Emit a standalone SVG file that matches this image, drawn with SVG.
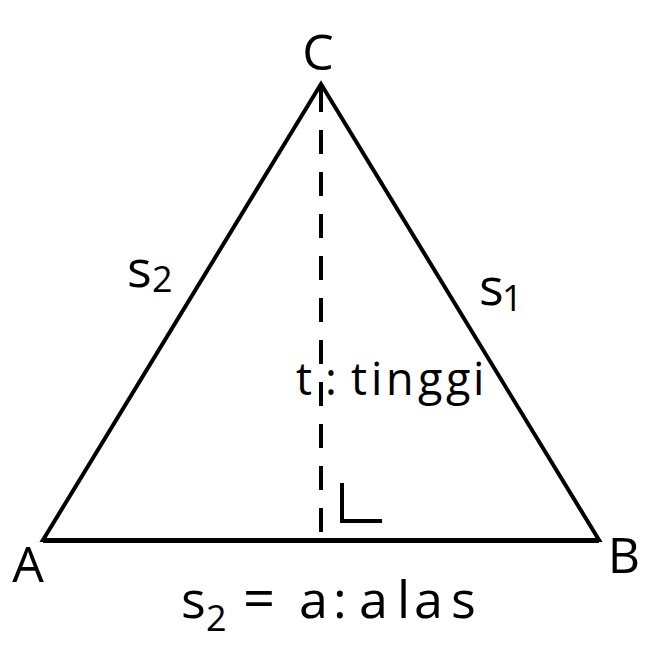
<svg xmlns="http://www.w3.org/2000/svg" width="652" height="646" viewBox="0 0 652 646">
<style>
.t{font-family:"Open Sans","Lato",sans-serif;fill:#000;font-variant-ligatures:none}
.ln{stroke:#000;stroke-width:4;fill:none}
</style>
<rect width="652" height="646" fill="#fff"/>
<g id="connectors">
<polygon id="triangle" class="ln" points="321,84 43,540 599,540" stroke-linejoin="miter"/>
<line id="base" x1="43" y1="540.5" x2="599" y2="540.5" stroke="#000" stroke-width="5"/>
<line id="height" class="ln" x1="321" y1="88" x2="321" y2="538" stroke-width="5" stroke-dasharray="24 18"/>
<polyline id="right-angle" class="ln" points="342,483 342,521 382,521"/>
</g>
<g id="node-C"><text class="t" x="318" y="70" font-size="50" text-anchor="middle">C</text></g>
<g id="node-A"><text class="t" x="28" y="582" font-size="50" text-anchor="middle">A</text></g>
<g id="node-B"><text class="t" x="624" y="573" font-size="50" text-anchor="middle">B</text></g>
<g id="label-s2"><text class="t" x="127" y="287" font-size="52">s<tspan font-size="36" x="152" dy="5">2</tspan></text></g>
<g id="label-s1"><text class="t" x="479" y="305" font-size="52">s<tspan font-size="36" x="502" dy="6">1</tspan></text></g>
<g id="label-t"><text class="t" y="395" font-size="45"><tspan x="296">t</tspan><tspan x="325">:</tspan><tspan x="351 371 386 418 446 473">tinggi</tspan></text></g>
<g id="label-base"><text class="t" y="618" font-size="52"><tspan x="181">s</tspan><tspan x="206" dy="13" font-size="36">2</tspan><tspan x="243" dy="-13" font-size="56">=</tspan><tspan x="299">a</tspan><tspan x="333">:</tspan><tspan x="359 397 414 451">alas</tspan></text></g>
</svg>
